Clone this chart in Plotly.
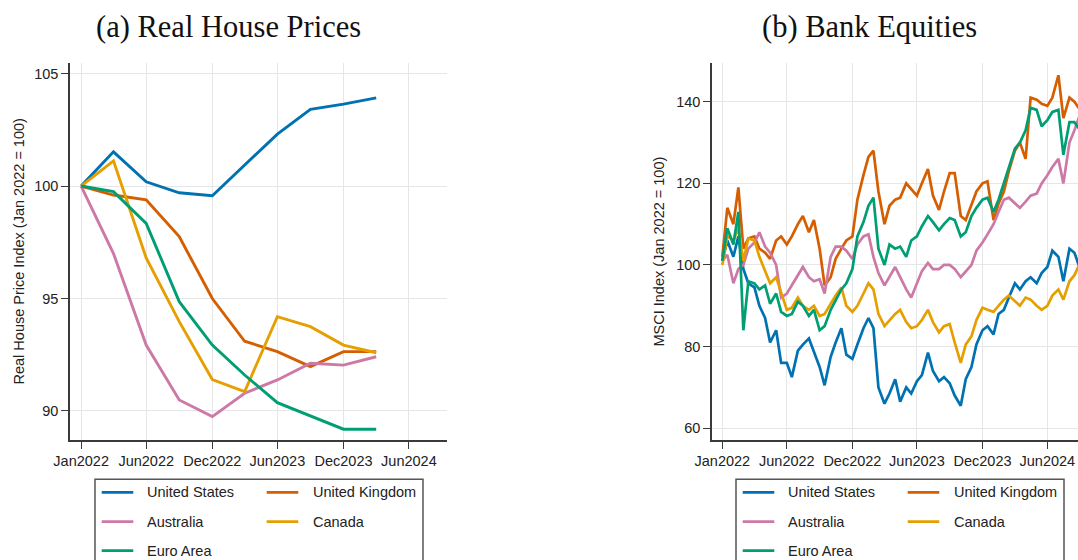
import pandas as pd
import plotly.graph_objects as go

W, H = 1078, 560

countries = ["United States", "United Kingdom", "Australia", "Canada", "Euro Area"]
colors = ["#0072B2", "#D55E00", "#CC79A7", "#E69F00", "#009E73"]

# ---- Panel (a): real house price index, quarterly (Jan 2022 = 100)
hp_dates = ["2022-01-01", "2022-04-01", "2022-07-01", "2022-10-01", "2023-01-01",
            "2023-04-01", "2023-07-01", "2023-10-01", "2024-01-01", "2024-04-01"]
hp_us = [100, 101.52, 100.19, 99.70, 99.57, 100.93, 102.31, 103.41, 103.64, 103.92]
hp_uk = [100, 99.60, 99.39, 97.75, 95.00, 93.10, 92.64, 91.97, 92.64, 92.64]
hp_au = [100, 97.00, 92.93, 90.49, 89.75, 90.79, 91.38, 92.12, 92.04, 92.41]
hp_ca = [100, 101.12, 96.80, 93.97, 91.40, 90.86, 94.19, 93.75, 92.93, 92.59]
hp_ea = [100, 99.75, 98.34, 94.86, 92.93, 91.60, 90.37, 89.78, 89.19, 89.19]

# ---- Panel (b): MSCI bank equity indices, semi-monthly (Jan 2022 = 100)
msci_dates = pd.date_range("2022-01-01", periods=67, freq="SMS")
msci_us = [101, 106, 102, 107, 99, 95.5, 94.5, 90, 87, 81,
           84, 76, 76, 72.5, 79, 80.5, 82, 78.5, 75, 70.5,
           77.5, 81, 84.5, 78, 77, 80.5, 84.5, 87, 84.5, 70,
           66, 68.5, 72, 66.5, 70, 68.5, 71.5, 73, 78.5, 74,
           71.5, 72.5, 71, 68, 65.5, 72, 75, 80.5, 84, 85,
           83, 88, 89, 92, 95.5, 94, 96, 97, 95.5, 98,
           99.5, 103.5, 102, 96, 104, 103, 99]
msci_uk = [102, 114, 110, 119, 104, 106.5, 107, 104, 103, 101.5,
           106, 107, 105, 107, 110, 112, 108, 111, 104, 95,
           97, 101.5, 104, 106, 107, 116, 122, 126.5, 128, 118,
           110, 114.5, 116, 116.5, 120, 118.5, 117, 120, 123.5, 117,
           113.5, 118, 122.5, 122.5, 112, 111, 115, 118, 120, 120.5,
           111, 115, 118, 123, 128, 130, 126, 141, 140.5, 139.5,
           139, 141, 146.5, 136, 141, 140, 138]
msci_au = [101, 102.5, 95.5, 99, 100, 104, 105.5, 108, 104.5, 103,
           100, 92, 93, 95, 97.5, 99.5, 97, 96, 96.5, 93,
           102, 104.5, 104.5, 103.5, 101.5, 105, 107, 107.5, 102, 98,
           95, 97, 99.5, 97, 94, 92, 95.5, 98.5, 100.5, 99,
           99, 100, 100, 99, 97, 98.5, 100, 103.5, 105.5, 107.5,
           110, 113, 116, 116.5, 115, 114, 115.5, 117, 117.5, 120,
           122, 124, 126, 120, 130, 133, 137]
msci_ca = [100, 107, 106, 109, 101, 106.5, 106, 102, 98.5, 95.5,
           97, 93, 89, 89.5, 92, 90, 89, 90, 87.5, 88,
           90.5, 92.5, 94.5, 90, 88.5, 90, 93, 95.5, 94, 88,
           85, 86.5, 88, 89, 86, 84.5, 85, 86.5, 89, 86,
           83.5, 85, 85.5, 81, 76, 80.5, 82.5, 86.5, 89.5, 89,
           88.5, 90, 91.5, 92.5, 91, 90, 92, 91.5, 90, 89,
           90, 92.5, 94, 91.5, 96, 97.5, 100.5]
msci_ea = [101, 109, 105, 113, 84, 96, 95.5, 94, 95, 90.5,
           93, 88.5, 87.5, 88, 91, 90, 87.5, 89, 84, 85,
           89, 91.5, 94, 95.5, 99, 107, 110.5, 114.5, 116.5, 104,
           100, 105, 104, 104.5, 102, 106, 107, 109.5, 112, 110.5,
           108.5, 110, 111.5, 111, 107, 108, 112, 114, 116, 116.5,
           113, 116, 120, 124, 128.5, 130, 133, 138.5, 138, 134,
           135.5, 137.5, 138, 127, 135, 135, 133]

tick_dates = ["2022-01-01", "2022-07-01", "2023-01-01", "2023-07-01", "2024-01-01", "2024-07-01"]
tick_text = ["Jan2022", "Jun2022", "Dec2022", "Jun2023", "Dec2023", "Jun2024"]

hp_series = [hp_us, hp_uk, hp_au, hp_ca, hp_ea]
msci_series = [msci_us, msci_uk, msci_au, msci_ca, msci_ea]


def fx(p):
    return p / W


def fy(p):
    return 1 - p / H


SANS = "Liberation Sans, Arial, sans-serif"
SERIF = "Liberation Serif, Times New Roman, serif"
AXIS_COL = "#3a3a3a"
GRID_COL = "#e6e6e6"

fig = go.Figure()

for name, col, ys in zip(countries, colors, hp_series):
    fig.add_trace(go.Scatter(x=hp_dates, y=ys, mode="lines", name=name,
                             line=dict(color=col, width=2.9), showlegend=False,
                             xaxis="x", yaxis="y"))

for name, col, ys in zip(countries, colors, msci_series):
    fig.add_trace(go.Scatter(x=msci_dates, y=ys, mode="lines", name=name,
                             line=dict(color=col, width=2.7), showlegend=False,
                             xaxis="x2", yaxis="y2"))

common_x = dict(type="date", tickmode="array", tickvals=tick_dates, ticktext=tick_text,
                showline=True, linecolor=AXIS_COL, linewidth=1.5, automargin=False,
                ticks="outside", ticklen=7, tickwidth=1.4, tickcolor=AXIS_COL,
                showgrid=True, gridcolor=GRID_COL, gridwidth=1.2, zeroline=False,
                tickfont=dict(family=SANS, size=14.5, color="#222"))
common_y = dict(showline=True, linecolor=AXIS_COL, linewidth=1.5, automargin=False,
                ticks="outside", ticklen=7, tickwidth=1.4, tickcolor=AXIS_COL,
                showgrid=True, gridcolor=GRID_COL, gridwidth=1.2, zeroline=False,
                tickfont=dict(family=SANS, size=14.5, color="#222"))

fig.update_layout(
    width=W, height=H,
    margin=dict(l=0, r=0, t=0, b=0),
    paper_bgcolor="white", plot_bgcolor="white",
    xaxis=dict(common_x, domain=[fx(70), fx(447)], range=["2021-12-01", "2024-10-15"],
               anchor="y"),
    yaxis=dict(common_y, domain=[fy(440), fy(63)], range=[88.71, 105.47],
               tickvals=[90, 95, 100, 105], anchor="x"),
    xaxis2=dict(common_x, domain=[fx(712), 1.0], range=["2021-12-03", "2024-09-25"],
                anchor="y2"),
    yaxis2=dict(common_y, domain=[fy(440), fy(63)], range=[57.1, 149.5],
                tickvals=[60, 80, 100, 120, 140], anchor="x2"),
)

annotations = [
    dict(text="(a) Real House Prices", x=fx(228), y=fy(27), xref="paper", yref="paper",
         showarrow=False, xanchor="center", yanchor="middle",
         font=dict(family=SERIF, size=30.5, color="#111")),
    dict(text="(b) Bank Equities", x=fx(869), y=fy(27), xref="paper", yref="paper",
         showarrow=False, xanchor="center", yanchor="middle",
         font=dict(family=SERIF, size=30.5, color="#111")),
    dict(text="Real House Price Index (Jan 2022 = 100)", x=fx(18), y=fy(251.5),
         xref="paper", yref="paper", showarrow=False, textangle=-90,
         xanchor="center", yanchor="middle", font=dict(family=SANS, size=14.5, color="#222")),
    dict(text="MSCI Index (Jan 2022 = 100)", x=fx(658), y=fy(251.5),
         xref="paper", yref="paper", showarrow=False, textangle=-90,
         xanchor="center", yanchor="middle", font=dict(family=SANS, size=14.5, color="#222")),
]

shapes = []

# legend boxes below each panel: two columns, three rows
slots = [(0, 0), (1, 0), (0, 1), (1, 1), (0, 2)]
row_y = [492.3, 521.7, 550.7]
col_line = [(101.7, 133.3), (266.7, 298.3)]
col_text = [145.0, 310.7]
for offset in (0.0, 641.0):
    shapes.append(dict(type="rect", xref="paper", yref="paper",
                       x0=fx(95 + offset), x1=fx(423 + offset), y0=fy(590), y1=fy(479.3),
                       line=dict(color="#555", width=1.5), fillcolor="white", layer="below"))
    for (c, r), name, col in zip(slots, countries, colors):
        x0, x1 = col_line[c]
        shapes.append(dict(type="line", xref="paper", yref="paper",
                           x0=fx(x0 + offset), x1=fx(x1 + offset),
                           y0=fy(row_y[r]), y1=fy(row_y[r]),
                           line=dict(color=col, width=2.8)))
        annotations.append(dict(text=name, x=fx(col_text[c] + offset), y=fy(row_y[r]),
                                xref="paper", yref="paper", showarrow=False,
                                xanchor="left", yanchor="middle",
                                font=dict(family=SANS, size=14.5, color="#222")))

fig.update_layout(annotations=annotations, shapes=shapes)

fig.write_html("out.html")
